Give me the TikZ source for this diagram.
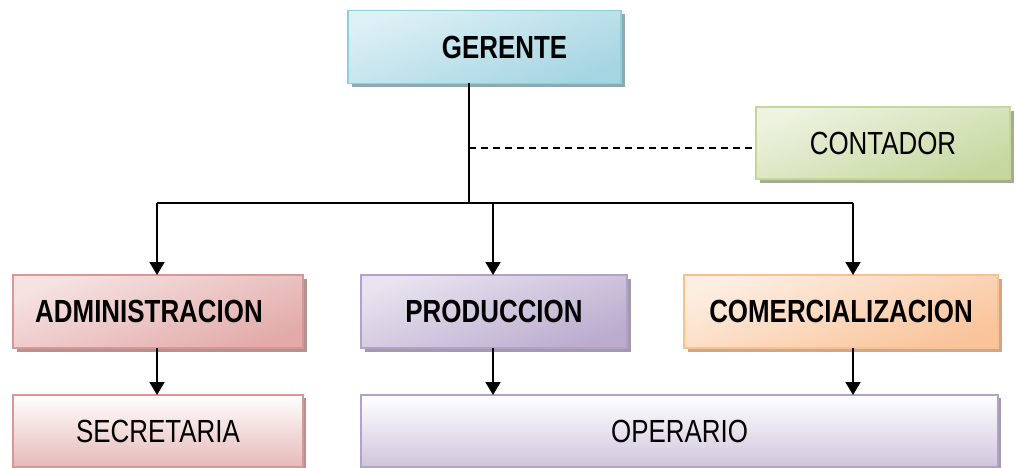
\documentclass[tikz,border=0pt]{standalone}
\usepackage{fontspec}
\setmainfont{Liberation Sans}[FakeStretch=0.81]
\usetikzlibrary{arrows.meta,shadows}
\definecolor{gerB}{HTML}{92CDDC}\definecolor{gerL}{HTML}{DDF0F5}\definecolor{gerD}{HTML}{A5D5E2}\definecolor{gerS}{HTML}{8FA9B0}
\definecolor{conB}{HTML}{C3D69B}\definecolor{conL}{HTML}{EDF3E0}\definecolor{conD}{HTML}{C6D8A0}\definecolor{conS}{HTML}{A3AD8F}
\definecolor{admB}{HTML}{D99694}\definecolor{admL}{HTML}{F5E3E2}\definecolor{admD}{HTML}{E2ABAA}\definecolor{admS}{HTML}{B59190}
\definecolor{proB}{HTML}{B3A2C7}\definecolor{proL}{HTML}{E8E3EF}\definecolor{proD}{HTML}{BBACCE}\definecolor{proS}{HTML}{A39BAD}
\definecolor{comB}{HTML}{FAC090}\definecolor{comL}{HTML}{FDEEE2}\definecolor{comD}{HTML}{F9C49A}\definecolor{comS}{HTML}{CDA88B}
\definecolor{opeD}{HTML}{CFC5DC}\definecolor{secD}{HTML}{E6B9B8}
\tikzset{
  orgbox/.style={rectangle, outer sep=0pt, inner sep=0pt, line width=1.5pt, text=black,
    font=\fontsize{32}{38}\selectfont},
  headbox/.style={orgbox, font=\fontsize{32}{38}\selectfont\bfseries},
  shade2/.style n args={4}{draw=#1, left color=#2, right color=#3, shading angle=20,
    general shadow={fill=#4, shadow xshift=4pt, shadow yshift=-4pt}},
  vshade/.style n args={3}{draw=#1, top color=white, bottom color=#2,
    general shadow={fill=#3, shadow xshift=3pt, shadow yshift=-3pt}},
  conn/.style={line width=1.6pt, black},
  arr/.style={conn, -{Triangle[width=15pt,length=13pt]}},
  dashconn/.style={line width=1.2pt, black, dash pattern=on 7pt off 5pt}
}
\begin{document}
\begin{tikzpicture}[x=1pt,y=-1pt]
\useasboundingbox (0,0) rectangle (1017,468);
\node[headbox, shade2={gerB}{gerL}{gerD}{gerS}, minimum width=273pt, minimum height=73pt] (ger) at (484.5,47) {\hspace*{40pt}GERENTE};
\node[orgbox, shade2={conB}{conL}{conD}{conS}, minimum width=254pt, minimum height=72pt] (con) at (883,143) {CONTADOR};
\node[headbox, shade2={admB}{admL}{admD}{admS}, minimum width=290pt, minimum height=73pt] (adm) at (158,311.5) {ADMINISTRACION\hspace*{18pt}};
\node[headbox, shade2={proB}{proL}{proD}{proS}, minimum width=266pt, minimum height=73pt] (pro) at (494,311.5) {PRODUCCION};
\node[headbox, shade2={comB}{comL}{comD}{comS}, minimum width=314pt, minimum height=73pt] (com) at (841,311.5) {COMERCIALIZACION};
\node[orgbox, vshade={admB}{secD}{admS}, minimum width=290pt, minimum height=72pt] (sec) at (158,431) {SECRETARIA};
\node[orgbox, vshade={proB}{opeD}{proS}, minimum width=637pt, minimum height=72pt] (ope) at (679.5,431) {OPERARIO};
\coordinate (j) at (469,203);
\coordinate (hl) at (157,203);
\coordinate (hm) at (493,203);
\coordinate (hr) at (853,203);
\draw[conn] (j |- ger.south) -- (j);
\draw[conn] (hl) -- (hr);
\draw[dashconn] (j |- 0,148) -- (con.west |- 0,148);
\draw[arr] (hl) -- (hl |- adm.north);
\draw[arr] (hm) -- (hm |- pro.north);
\draw[arr] (hr) -- (hr |- com.north);
\draw[arr] (hl |- adm.south) -- (hl |- sec.north);
\draw[arr] (hm |- pro.south) -- (hm |- ope.north);
\draw[arr] (hr |- com.south) -- (hr |- ope.north);
\end{tikzpicture}
\end{document}
